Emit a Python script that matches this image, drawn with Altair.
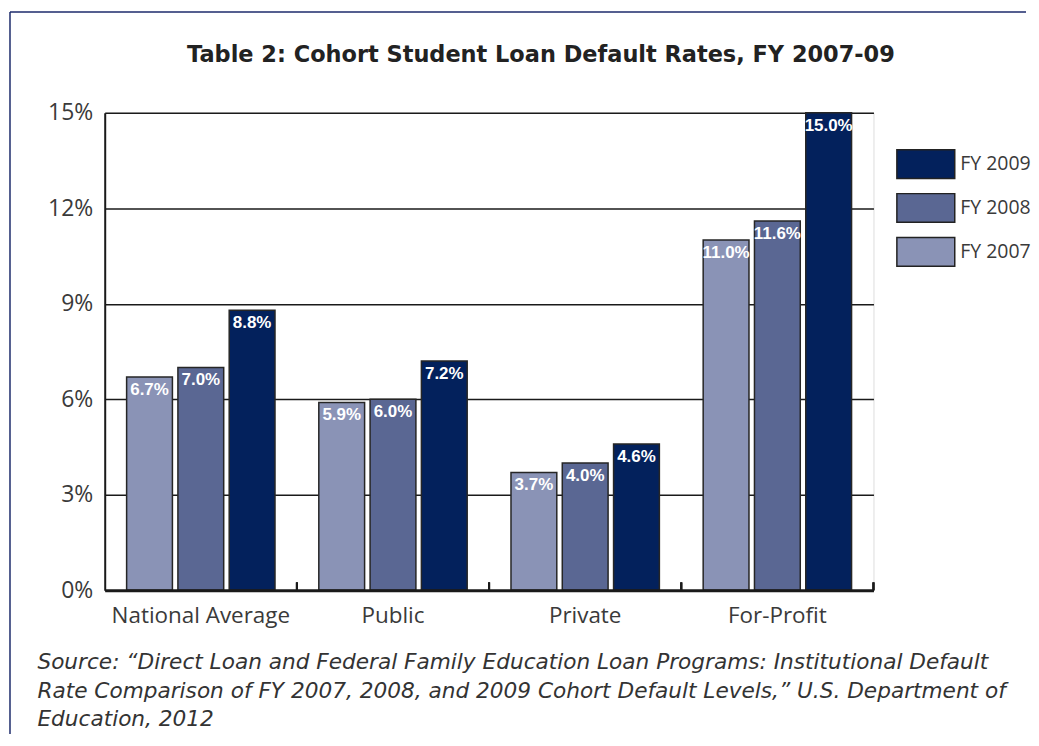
import altair as alt
import pandas as pd

groups = ["National Average", "Public", "Private", "For-Profit"]
fy2007 = [6.7, 5.9, 3.7, 11.0]
fy2008 = [7.0, 6.0, 4.0, 11.6]
fy2009 = [8.8, 7.2, 4.6, 15.0]
series = ["FY 2007", "FY 2008", "FY 2009"]
colors = {"FY 2007": "#8a93b6", "FY 2008": "#5a6793", "FY 2009": "#03215c"}
y_ticks = [0, 3, 6, 9, 12, 15]

rows = []
for s, vals in zip(series, [fy2007, fy2008, fy2009]):
    for g, v in zip(groups, vals):
        rows.append({"group": g, "series": s, "value": v})
df = pd.DataFrame(rows)

title_text = "Table 2: Cohort Student Loan Default Rates, FY 2007-09"
source_lines = [
    "Source: \u201cDirect Loan and Federal Family Education Loan Programs: Institutional Default",
    "Rate Comparison of FY 2007, 2008, and 2009 Cohort Default Levels,\u201d U.S. Department of",
    "Education, 2012",
]

LABEL_FONT = "Open Sans"
TEXT_COLOR = "#3a3a3a"
FRAME_COLOR = "#1c2a6b"

legend_domain = ["FY 2009", "FY 2008", "FY 2007"]

x_enc = alt.X(
    "group:N",
    sort=groups,
    scale=alt.Scale(paddingInner=0, paddingOuter=0),
    axis=alt.Axis(
        title=source_lines,
        titleFont="DejaVu Sans",
        titleFontStyle="italic",
        titleFontWeight="normal",
        titleFontSize=21.7,
        titleColor="#333333",
        titleAnchor="start",
        titleAlign="left",
        titleBaseline="alphabetic",
        titleX=-68,
        titleY=78,
        titleLineHeight=29,
        titleLimit=1000,
        labelAngle=0,
        labelFont=LABEL_FONT,
        labelFontSize=22.5,
        labelColor=TEXT_COLOR,
        labelPadding=14,
        ticks=False,
        domainColor="#1a1a1a",
        domainWidth=3,
        zindex=1,
    ),
)
xoff_enc = alt.XOffset(
    "series:N",
    sort=series,
    scale=alt.Scale(paddingInner=0.107, paddingOuter=0.427),
)
y_enc = alt.Y(
    "value:Q",
    scale=alt.Scale(domain=[0, 15], nice=False),
    axis=alt.Axis(
        title=None,
        values=y_ticks,
        labelExpr="datum.value + '%'",
        labelFont=LABEL_FONT,
        labelFontSize=23,
        labelColor=TEXT_COLOR,
        labelPadding=12,
        ticks=False,
        grid=True,
        gridColor="#1a1a1a",
        gridWidth=1.5,
        gridOpacity=1,
        domainColor="#1a1a1a",
        domainWidth=2,
    ),
)

base = alt.Chart(df)

bars = base.mark_bar(stroke="#262626", strokeWidth=1.5, opacity=1).encode(
    x=x_enc,
    xOffset=xoff_enc,
    y=y_enc,
    color=alt.Color(
        "series:N",
        scale=alt.Scale(domain=legend_domain, range=[colors[s] for s in legend_domain]),
        legend=alt.Legend(
            title=None,
            orient="none",
            legendX=800,
            legendY=28,
            symbolType="M-1.29,-0.64L1.29,-0.64L1.29,0.64L-1.29,0.64Z",
            symbolSize=2025,
            symbolStrokeColor="#222222",
            symbolStrokeWidth=1.5,
            symbolOpacity=1,
            labelFont=LABEL_FONT,
            labelFontSize=19.5,
            labelColor=TEXT_COLOR,
            labelOffset=11,
            rowPadding=3,
            padding=0,
        ),
    ),
)

labels = base.transform_calculate(
    label="format(datum.value, '.1f') + '%'"
).mark_text(
    baseline="top",
    dy=5,
    color="white",
    font="Liberation Sans",
    fontWeight="bold",
    fontSize=17,
).encode(
    x=alt.X("group:N", sort=groups),
    xOffset=alt.XOffset("series:N", sort=series),
    y="value:Q",
    text="label:N",
)

ticks = base.mark_rule(color="#1a1a1a", strokeWidth=2).encode(
    x=alt.X("group:N", sort=groups, bandPosition=1),
    y=alt.value(471),
    y2=alt.value(479),
)

frame_data = alt.Data(values=[{}])
frame_top = alt.Chart(frame_data).mark_rule(color=FRAME_COLOR, strokeWidth=1.5).encode(
    x=alt.value(-95),
    x2=alt.value(924),
    y=alt.value(-101),
)
frame_left = alt.Chart(frame_data).mark_rule(color=FRAME_COLOR, strokeWidth=1.5).encode(
    x=alt.value(-95),
    y=alt.value(-101),
    y2=alt.value(623),
)

chart = alt.layer(frame_top, frame_left, bars, labels, ticks).properties(
    width=771,
    height=479,
    padding={"left": 1, "top": 2, "right": 0, "bottom": 0},
    title=alt.TitleParams(
        text=title_text,
        font="DejaVu Sans",
        fontWeight="bold",
        fontSize=22.5,
        color="#222222",
        anchor="middle",
        frame="group",
        baseline="alphabetic",
        dx=52,
        offset=-73,
    ),
).configure_view(stroke=None).configure(background="white")

chart.save("out.html", embed_options={"renderer": "svg", "actions": False})
